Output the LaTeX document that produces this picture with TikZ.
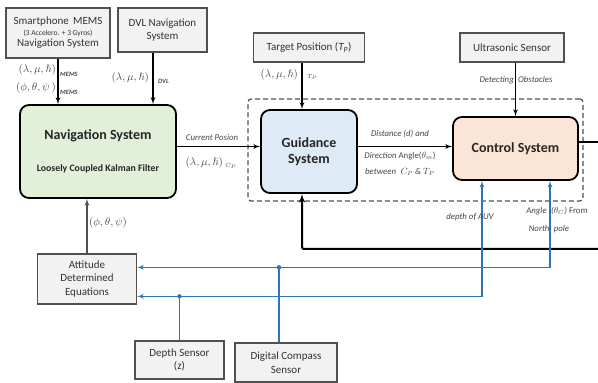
\documentclass[tikz,border=0pt]{standalone}
\usepackage{fontspec}
\setmainfont{Carlito}
\usepackage{amsmath}
\usepackage{amssymb}
\usetikzlibrary{arrows,calc,positioning}
\definecolor{boxgray}{RGB}{242,242,242}
\definecolor{edgegray}{RGB}{80,80,80}
\definecolor{lblgray}{RGB}{70,70,70}
\definecolor{navgreen}{RGB}{226,239,217}
\definecolor{guidblue}{RGB}{222,235,247}
\definecolor{ctrlpeach}{RGB}{251,229,214}
\definecolor{sigblue}{RGB}{46,117,182}
\newcommand{\pos}{(\lambda,\mu,\hslash)}
\tikzset{
    graybox/.style = {draw=edgegray, fill=boxgray, line width=1.4pt, rectangle,
        inner sep=1pt, align=center, text=black!80,
        font=\fontsize{11}{13.5}\selectfont},
    mainblock/.style = {draw, line width=1.8pt, rounded corners=9pt,
        align=center, text=black!85, font=\bfseries\fontsize{14}{16.5}\selectfont},
    group/.style = {draw=edgegray, dashed, line width=1.2pt, dash pattern=on 5pt off 3pt,
        rounded corners=3pt},
    arrow/.style = {draw, ->, line width=1.3pt},
    sig/.style = {draw=sigblue, line width=1.2pt},
    lbl/.style = {font=\itshape\fontsize{8.8}{10}\selectfont, text=lblgray, align=center, inner sep=1pt},
    tuple/.style = {font=\fontsize{11}{12}\selectfont, text=lblgray, inner sep=0pt},
    sub/.style = {font=\bfseries\itshape\fontsize{6.5}{7}\selectfont, text=lblgray, inner sep=0pt}
}

\begin{document}
\begin{tikzpicture}[x=1pt, y=1pt, >=latex']
    \useasboundingbox (0,0) rectangle (598,383);
    % sources on top
    \node [graybox, minimum width=104pt, minimum height=50pt] (mems) at (58,350)
        {Smartphone\, MEMS\\[-3pt] {\fontsize{7.5}{9}\selectfont (3 Accelero. + 3 Gyros)}\\[-2pt] Navigation System};
    \node [graybox, minimum width=89pt, minimum height=44pt] (dvl) at (162.5,353)
        {DVL Navigation\\ System};
    \node [graybox, minimum width=111pt, minimum height=29pt] (target) at (309,335.5)
        {Target Position (\textit{T\textsubscript{P}})};
    \node [graybox, minimum width=104pt, minimum height=29pt] (ultra) at (512,335.5)
        {Ultrasonic Sensor};
    % main blocks
    \node [mainblock, fill=navgreen, minimum width=156pt, minimum height=93pt] (nav) at (98,231.5)
        {Navigation System\\[15pt] {\fontsize{9.8}{11}\selectfont Loosely Coupled Kalman Filter}};
    \node [mainblock, fill=guidblue, minimum width=96pt, minimum height=83pt] (guid) at (309,231.5)
        {Guidance\\ System};
    \node [mainblock, fill=ctrlpeach, minimum width=125pt, minimum height=63pt] (ctrl) at (515.5,234.5)
        {Control System};
    \node [group, minimum width=335pt, minimum height=102pt] (grp) at (415.5,233) {};
    % sensors below
    \node [graybox, minimum width=99pt, minimum height=50pt] (att) at (87,104)
        {Attitude\\ Determined\\ Equations};
    \node [graybox, minimum width=89pt, minimum height=38pt] (depth) at (179.5,23)
        {Depth Sensor\\ (z)};
    \node [graybox, minimum width=102pt, minimum height=39pt] (comp) at (286,20.5)
        {Digital Compass\\ Sensor};
    \coordinate (edge) at (598,0);
    \coordinate (fbin) at (598,134);

    \draw [arrow] (mems.south) -- (mems.south |- nav.north);
    \draw [arrow] ([xshift=-9.5pt]dvl.south) -- ([xshift=-9.5pt]dvl.south |- nav.north);
    \draw [arrow] ([xshift=-7pt]target.south) -- ([xshift=-7pt]guid.north);
    \draw [arrow] (ultra.south -| ctrl.north) -- (ctrl.north);
    \draw [arrow] ([yshift=5pt]nav.east) -- ([yshift=5pt]guid.west);
    \draw [arrow] ([yshift=5pt]guid.east) -- ([yshift=5pt]guid.east -| ctrl.west);
    \draw [draw, line width=2pt] ([yshift=6pt]ctrl.east) -- ([yshift=6pt]ctrl.east -| edge);
    \draw [arrow, line width=2pt, rounded corners=2pt] (fbin) -| ([xshift=-7pt]guid.south);
    \draw [arrow, draw=edgegray] (att.north) -- (att.north |- nav.south);

    % blue sensor lines
    \path (depth.north) ++(0,44) coordinate (dj);
    \path ([xshift=-7pt]comp.north) ++(0,75) coordinate (cj);
    \draw [sig] (depth.north) -- (dj);
    \draw [sig] ([xshift=-7pt]comp.north) -- (cj);
    \draw [sig,->] (dj) -- (dj -| att.east);
    \draw [sig,->] (cj) -- (cj -| att.east);
    \draw [sig,->] (dj) -| ([xshift=-33.5pt]ctrl.south);
    \draw [sig,->] (cj) -| ([xshift=34.5pt]ctrl.south);
    \fill [sigblue] (dj) circle (2.2pt);
    \fill [sigblue] (cj) circle (2.2pt);

    % labels
    \node [tuple, anchor=east] (memspos) at (56,313) {$\pos$};
    \node [sub, anchor=west] (memspossub) at (60,309) {MEMS};
    \node [tuple, anchor=east] (memsatt) at (56,295) {$(\phi,\theta,\psi\,)$};
    \node [sub, anchor=west] (memsattsub) at (60,291) {MEMS};
    \node [tuple, anchor=east] (dvlpos) at (149,305) {$\pos$};
    \node [sub, anchor=west] (dvlsub) at (158,302) {DVL};
    \node [tuple, anchor=east] (tgtpos) at (298,308) {$\pos$};
    \node [sub, anchor=west] (tgtsub) at (307,306) {$T_P$};
    \node [lbl] (curpos) at (212,245) {Current Posion};
    \node [tuple] (curval) at (211,220) {$\pos$ \raisebox{-2pt}{\fontsize{6.5}{7}\selectfont$C_P$}};
    \node [lbl] (dist) at (400,249) {Distance (d) and};
    \node [lbl] (dirang) at (400,227) {Direction \upshape Angle($\theta_m$)};
    \node [lbl] (betw) at (400,211) {between\; $C_P$ \& $T_P$};
    \node [lbl] (obst) at (516,303) {Detecting\; Obstacles};
    \node [lbl] (depthlbl) at (470,166) {depth of AUV};
    \node [lbl] (anglbl) at (557,172) {Angle\; ($\theta_C$) \upshape From};
    \node [lbl] (northlbl) at (549,154) {North\; pole};
    \node [tuple, anchor=west] (attval) at (89,160) {$(\phi,\theta,\psi)$};
\end{tikzpicture}
\end{document}
